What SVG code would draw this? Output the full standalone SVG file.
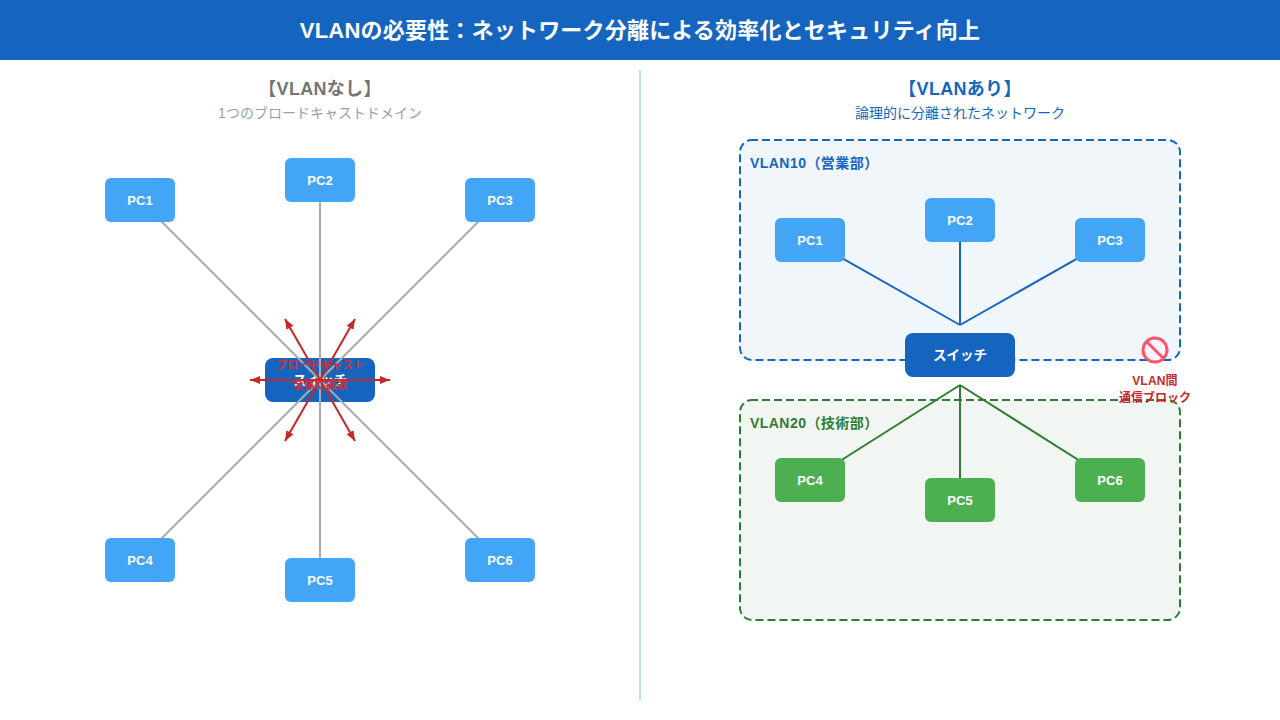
<svg xmlns="http://www.w3.org/2000/svg" width="1280" height="720" viewBox="0 0 1280 720">
<defs>
<marker id="ar" markerUnits="userSpaceOnUse" markerWidth="10" markerHeight="10" refX="10" refY="5" orient="auto"><path d="M0 1 L10 5 L0 9 Z" fill="#c62828"/></marker>
</defs>
<style>
text{font-family:"Liberation Sans","Noto Sans CJK JP",sans-serif;text-anchor:middle}
.pc rect{fill:#42a5f5}
.g rect{fill:#4caf50}
.n{font-size:13px;font-weight:700;fill:#fff}
.sw rect{fill:#1565c0}
.sl{font-size:13.5px;font-weight:700;fill:#fff}
.gl{stroke:#aaa;stroke-width:2;fill:none}
.bl{stroke:#1565c0;stroke-width:2;fill:none}
.gn{stroke:#2e7d32;stroke-width:2;fill:none}
.rd{stroke:#c62828;stroke-width:2;fill:none;marker-end:url(#ar)}
.vl{font-size:14px;font-weight:700;text-anchor:start;letter-spacing:.45px}
.rl{font-size:12px;font-weight:700;fill:#c62828}
.bc{font-size:11px;font-weight:700;fill:#d32f2f}
.h{font-size:18px;font-weight:700;letter-spacing:.3px}
</style>
<rect width="1280" height="60" fill="#1565c0"/>
<text x="640" y="38" font-size="22" font-weight="700" fill="#fff" letter-spacing=".2">VLANの必要性：ネットワーク分離による効率化とセキュリティ向上</text>
<line x1="640" y1="70" x2="640" y2="700" stroke="#bbdefb" stroke-width="2"/>
<text class="h" x="320" y="95" fill="#757575">【VLANなし】</text>
<text x="320" y="118" font-size="14" fill="#9e9e9e">1つのブロードキャストドメイン</text>
<text class="h" x="960" y="95" fill="#1565c0">【VLANあり】</text>
<text x="960" y="118" font-size="14" fill="#1565c0">論理的に分離されたネットワーク</text>
<g id="vlan10"><rect x="740" y="140" width="440" height="220" rx="12" fill="#f1f6fb" stroke="#1565c0" stroke-width="2" stroke-dasharray="8 4" stroke-dashoffset="2"/><text class="vl" x="750" y="168" fill="#1565c0">VLAN10（営業部）</text></g>
<g id="vlan20"><rect x="740" y="400" width="440" height="220" rx="12" fill="#f1f6f2" stroke="#2e7d32" stroke-width="2" stroke-dasharray="8 4" stroke-dashoffset="2"/><text class="vl" x="750" y="428" fill="#2e7d32">VLAN20（技術部）</text></g>
<g id="l-switch" class="sw"><rect x="265" y="358" width="110" height="44" rx="8"/><text class="sl" x="320" y="385">スイッチ</text></g>
<g id="connectors">
<path class="gl" d="M320 380L140 200M320 380V180M320 380L500 200M320 380L140 560M320 380V580M320 380L500 560"/>
<path class="bl" d="M960 325L810 240M960 325V220M960 325L1110 240"/>
<path class="gn" d="M960 385L810 480M960 385V500M960 385L1110 480"/>
</g>
<g id="l-pc1" class="pc"><rect x="105" y="178" width="70" height="44" rx="6"/><text class="n" x="140" y="205">PC1</text></g>
<g id="l-pc2" class="pc"><rect x="285" y="158" width="70" height="44" rx="6"/><text class="n" x="320" y="185">PC2</text></g>
<g id="l-pc3" class="pc"><rect x="465" y="178" width="70" height="44" rx="6"/><text class="n" x="500" y="205">PC3</text></g>
<g id="l-pc4" class="pc"><rect x="105" y="538" width="70" height="44" rx="6"/><text class="n" x="140" y="565">PC4</text></g>
<g id="l-pc5" class="pc"><rect x="285" y="558" width="70" height="44" rx="6"/><text class="n" x="320" y="585">PC5</text></g>
<g id="l-pc6" class="pc"><rect x="465" y="538" width="70" height="44" rx="6"/><text class="n" x="500" y="565">PC6</text></g>
<g id="broadcast">
<path class="rd" d="M320 380H250"/><path class="rd" d="M320 380H390"/>
<path class="rd" d="M320 380L285 319"/><path class="rd" d="M320 380L355 319"/>
<path class="rd" d="M320 380L285 441"/><path class="rd" d="M320 380L355 441"/>
<text class="bc" x="320" y="369">ブロードキャスト</text>
<text class="bc" x="320" y="389">全体に拡散</text>
</g>
<g id="r-pc1" class="pc"><rect x="775" y="218" width="70" height="44" rx="6"/><text class="n" x="810" y="245">PC1</text></g>
<g id="r-pc2" class="pc"><rect x="925" y="198" width="70" height="44" rx="6"/><text class="n" x="960" y="225">PC2</text></g>
<g id="r-pc3" class="pc"><rect x="1075" y="218" width="70" height="44" rx="6"/><text class="n" x="1110" y="245">PC3</text></g>
<g id="r-pc4" class="pc g"><rect x="775" y="458" width="70" height="44" rx="6"/><text class="n" x="810" y="485">PC4</text></g>
<g id="r-pc5" class="pc g"><rect x="925" y="478" width="70" height="44" rx="6"/><text class="n" x="960" y="505">PC5</text></g>
<g id="r-pc6" class="pc g"><rect x="1075" y="458" width="70" height="44" rx="6"/><text class="n" x="1110" y="485">PC6</text></g>
<g id="r-switch" class="sw"><rect x="905" y="333" width="110" height="44" rx="8"/><text class="sl" x="960" y="360">スイッチ</text></g>
<g id="block">
<circle cx="1155" cy="350" r="12" fill="#fff5ff" stroke="#ff5370" stroke-width="3"/>
<line x1="1147" y1="342" x2="1163" y2="358" stroke="#ff5370" stroke-width="3"/>
<text class="rl" x="1155" y="385" letter-spacing=".2">VLAN間</text>
<text class="rl" x="1155" y="402">通信ブロック</text>
</g>
</svg>
